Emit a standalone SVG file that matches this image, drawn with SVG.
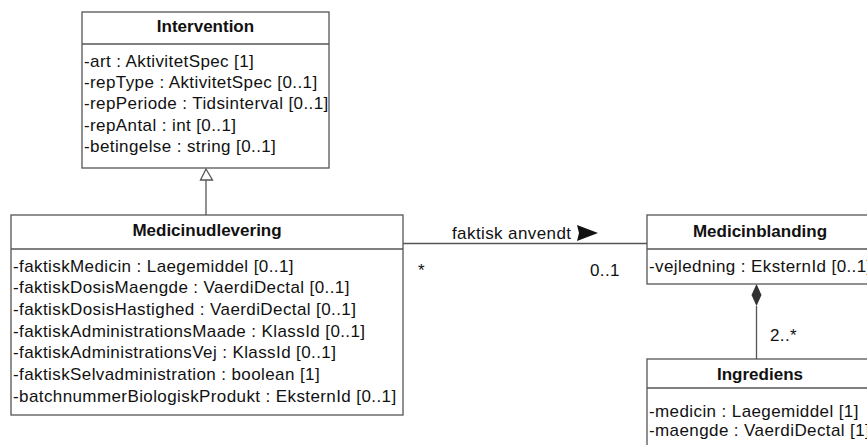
<svg xmlns="http://www.w3.org/2000/svg" width="867" height="445" viewBox="0 0 867 445">
<style>
.box{fill:#fff;stroke:#555;stroke-width:1.3}
.sep{stroke:#555;stroke-width:1.3}
.t{font-family:"Liberation Sans",Arial,sans-serif;font-size:17px;fill:#111;letter-spacing:0.4px}
.b{font-weight:bold;text-anchor:middle;letter-spacing:0}
.ln{stroke:#555;stroke-width:1.3;fill:none}
</style>
<rect width="867" height="445" fill="#fff"/>
<g id="connectors">
<line class="ln" x1="206" y1="180" x2="206" y2="215"/>
<polygon points="206,169 200.5,180 212.5,180" fill="#fff" stroke="#555" stroke-width="1.3"/>
<line class="ln" x1="403" y1="243.5" x2="647" y2="243.5"/>
<text class="t" x="452" y="239">faktisk anvendt</text>
<polygon points="577,225 598,233 577,241 579,233" fill="#111"/>
<text class="t" x="418" y="276">*</text>
<text class="t" x="590" y="276">0..1</text>
<line class="ln" x1="756.5" y1="306" x2="756.5" y2="359"/>
<polygon points="756.5,284 761.5,295 756.5,306 751.5,295" fill="#333"/>
<text class="t" x="770" y="341">2..*</text>
</g>
<g id="Intervention">
<rect class="box" x="82" y="12" width="247" height="156"/>
<line class="sep" x1="82" y1="44" x2="329" y2="44"/>
<text class="t b" x="205.5" y="32">Intervention</text>
<text class="t" x="84" y="66.5">-art : AktivitetSpec [1]</text>
<text class="t" x="84" y="88">-repType : AktivitetSpec [0..1]</text>
<text class="t" x="84" y="109.3">-repPeriode : Tidsinterval [0..1]</text>
<text class="t" x="84" y="130.7">-repAntal : int [0..1]</text>
<text class="t" x="84" y="152">-betingelse : string [0..1]</text>
</g>
<g id="Medicinudlevering">
<rect class="box" x="11" y="215" width="392" height="200"/>
<line class="sep" x1="11" y1="249" x2="403" y2="249"/>
<text class="t b" x="207" y="236">Medicinudlevering</text>
<text class="t" x="13" y="271.7">-faktiskMedicin : Laegemiddel [0..1]</text>
<text class="t" x="13" y="293.3">-faktiskDosisMaengde : VaerdiDectal [0..1]</text>
<text class="t" x="13" y="315">-faktiskDosisHastighed : VaerdiDectal [0..1]</text>
<text class="t" x="13" y="336.7">-faktiskAdministrationsMaade : KlassId [0..1]</text>
<text class="t" x="13" y="358.3">-faktiskAdministrationsVej : KlassId [0..1]</text>
<text class="t" x="13" y="380">-faktiskSelvadministration : boolean [1]</text>
<text class="t" x="13" y="401.7">-batchnummerBiologiskProdukt : EksternId [0..1]</text>
</g>
<g id="Medicinblanding">
<rect class="box" x="647" y="215" width="226" height="69"/>
<line class="sep" x1="647" y1="249" x2="873" y2="249"/>
<text class="t b" x="760" y="237">Medicinblanding</text>
<text class="t" x="649" y="272">-vejledning : EksternId [0..1]</text>
</g>
<g id="Ingrediens">
<rect class="box" x="647" y="359" width="226" height="100"/>
<line class="sep" x1="647" y1="388" x2="873" y2="388"/>
<text class="t b" x="760" y="380">Ingrediens</text>
<text class="t" x="649" y="416.7">-medicin : Laegemiddel [1]</text>
<text class="t" x="649" y="436">-maengde : VaerdiDectal [1]</text>
</g>
</svg>
